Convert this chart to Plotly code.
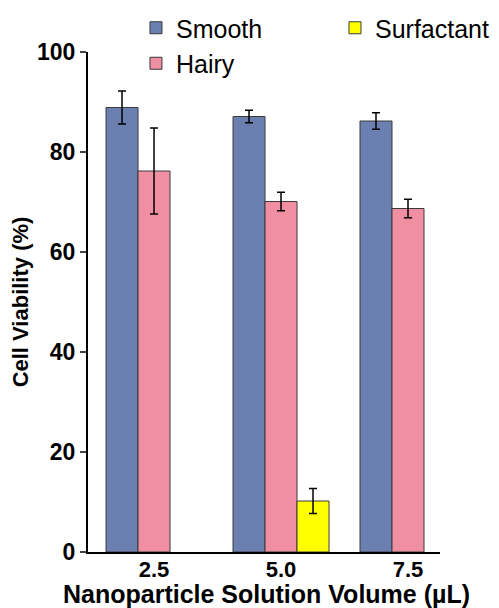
import plotly.graph_objects as go

categories = ["2.5", "5.0", "7.5"]
smooth = [88.9, 87.1, 86.2]
smooth_err = [3.3, 1.25, 1.65]
hairy = [76.2, 70.1, 68.7]
hairy_err = [8.6, 1.85, 1.85]
surfactant = [None, 10.2, None]
surfactant_err = [0, 2.5, 0]

xpos = list(range(len(categories)))

fig = go.Figure()
def add(name, vals, errs, color, rank):
    fig.add_trace(go.Bar(
        x=xpos, y=vals, name=name, legendrank=rank,
        marker=dict(color=color, line=dict(color="#3a3a3a", width=1)),
        error_y=dict(type="data", array=errs, color="black", thickness=1.5, width=4),
    ))

add("Smooth", smooth, smooth_err, "#6b7fb1", 1)
add("Hairy", hairy, hairy_err, "#f08fa2", 3)
add("Surfactant", surfactant, surfactant_err, "#ffff00", 2)

fig.update_layout(
    width=499, height=608,
    margin=dict(l=88, r=59, t=52, b=56, autoexpand=False),
    plot_bgcolor="white", paper_bgcolor="white",
    barmode="group", bargap=0.244, bargroupgap=0,
    font=dict(family="Liberation Sans, Arial, sans-serif", color="black"),
    legend=dict(orientation="h", x=1.267, y=1.094, xanchor="right", yanchor="top",
                entrywidth=154, entrywidthmode="pixels", tracegroupgap=0,
                font=dict(size=25), bgcolor="rgba(0,0,0,0)", traceorder="normal"),
    xaxis=dict(range=[-0.52, 2.252], tickvals=xpos, ticktext=categories,
               showline=True, linecolor="black", linewidth=2, ticks="", ticklabelstandoff=-3,
               tickfont=dict(size=22, family="Liberation Sans, Arial", weight="bold"),
               showgrid=False, zeroline=False),
    yaxis=dict(range=[0, 100], tickvals=[0, 20, 40, 60, 80, 100],
               showline=True, linecolor="black", linewidth=2, ticks="outside", ticklen=6, tickwidth=2,
               tickfont=dict(size=23, family="Liberation Sans, Arial", weight="bold"),
               showgrid=False, zeroline=False,
               title=dict(text="<b>Cell Viability (%)</b>", font=dict(size=22), standoff=2)),
    annotations=[dict(text="<b>Nanoparticle Solution Volume (µL)</b>", xref="paper", yref="paper",
                      x=0.506, y=-0.083, xanchor="center", yanchor="middle",
                      showarrow=False, font=dict(size=25))],
)

fig.write_html("out.html")
